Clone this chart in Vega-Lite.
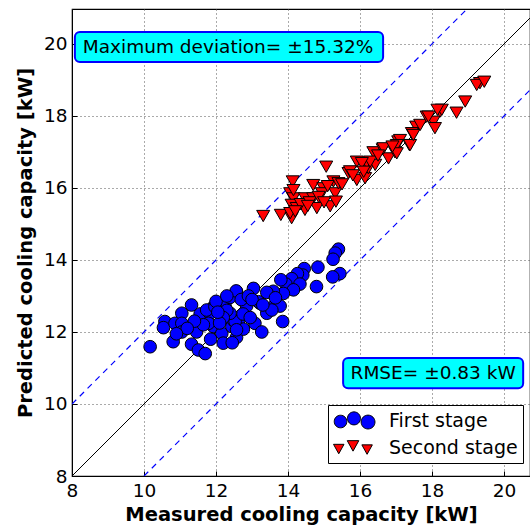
{
  "$schema": "https://vega.github.io/schema/vega-lite/v6.json",
  "width": 458,
  "height": 467,
  "autosize": "none",
  "padding": {"left": 72, "top": 9, "right": 0, "bottom": 53},
  "background": "white",
  "config": {
    "view": {"stroke": "black", "strokeWidth": 1.2},
    "font": "DejaVu Sans",
    "axis": {
      "labelFont": "DejaVu Sans",
      "labelFontSize": 18.5,
      "labelColor": "black",
      "labelFlush": false,
      "titleFont": "DejaVu Sans",
      "titleFontSize": 19.5,
      "titleFontWeight": "bold",
      "titleColor": "black",
      "domainColor": "black",
      "tickColor": "black",
      "tickSize": -5,
      "labelPadding": 10,
      "grid": true,
      "gridDash": [1, 3],
      "gridColor": "#555555",
      "gridWidth": 1
    }
  },
  "datasets": {
    "points": [
      {"stage": "First stage", "measured": 10.17, "predicted": 11.59},
      {"stage": "First stage", "measured": 10.58, "predicted": 12.29},
      {"stage": "First stage", "measured": 10.54, "predicted": 12.12},
      {"stage": "First stage", "measured": 10.81, "predicted": 11.73},
      {"stage": "First stage", "measured": 10.86, "predicted": 12.24},
      {"stage": "First stage", "measured": 11.05, "predicted": 12.52},
      {"stage": "First stage", "measured": 11.05, "predicted": 12.24},
      {"stage": "First stage", "measured": 11.05, "predicted": 12.0},
      {"stage": "First stage", "measured": 11.32, "predicted": 12.75},
      {"stage": "First stage", "measured": 11.32, "predicted": 11.66},
      {"stage": "First stage", "measured": 11.51, "predicted": 11.5},
      {"stage": "First stage", "measured": 11.7, "predicted": 11.4},
      {"stage": "First stage", "measured": 11.46, "predicted": 12.0},
      {"stage": "First stage", "measured": 11.56, "predicted": 12.5},
      {"stage": "First stage", "measured": 11.83, "predicted": 12.52},
      {"stage": "First stage", "measured": 11.93, "predicted": 12.15},
      {"stage": "First stage", "measured": 12.16, "predicted": 11.96},
      {"stage": "First stage", "measured": 12.2, "predicted": 11.69},
      {"stage": "First stage", "measured": 12.25, "predicted": 12.72},
      {"stage": "First stage", "measured": 12.44, "predicted": 12.15},
      {"stage": "First stage", "measured": 12.57, "predicted": 13.12},
      {"stage": "First stage", "measured": 12.39, "predicted": 12.96},
      {"stage": "First stage", "measured": 12.62, "predicted": 12.29},
      {"stage": "First stage", "measured": 12.57, "predicted": 11.85},
      {"stage": "First stage", "measured": 11.93, "predicted": 12.7},
      {"stage": "First stage", "measured": 11.79, "predicted": 12.24},
      {"stage": "First stage", "measured": 11.74, "predicted": 12.61},
      {"stage": "First stage", "measured": 11.97, "predicted": 12.7},
      {"stage": "First stage", "measured": 12.48, "predicted": 12.33},
      {"stage": "First stage", "measured": 12.76, "predicted": 12.08},
      {"stage": "First stage", "measured": 13.08, "predicted": 12.24},
      {"stage": "First stage", "measured": 13.27, "predicted": 12.0},
      {"stage": "First stage", "measured": 13.41, "predicted": 12.52},
      {"stage": "First stage", "measured": 13.85, "predicted": 12.29},
      {"stage": "First stage", "measured": 13.59, "predicted": 12.7},
      {"stage": "First stage", "measured": 13.78, "predicted": 12.72},
      {"stage": "First stage", "measured": 13.22, "predicted": 12.8},
      {"stage": "First stage", "measured": 12.85, "predicted": 12.72},
      {"stage": "First stage", "measured": 13.18, "predicted": 12.84},
      {"stage": "First stage", "measured": 13.55, "predicted": 12.61},
      {"stage": "First stage", "measured": 15.4, "predicted": 14.3},
      {"stage": "First stage", "measured": 15.31, "predicted": 14.19},
      {"stage": "First stage", "measured": 15.25, "predicted": 14.02},
      {"stage": "First stage", "measured": 15.44, "predicted": 13.62},
      {"stage": "First stage", "measured": 15.24, "predicted": 13.53},
      {"stage": "First stage", "measured": 14.83, "predicted": 13.8},
      {"stage": "First stage", "measured": 14.79, "predicted": 13.26},
      {"stage": "First stage", "measured": 14.45, "predicted": 13.76},
      {"stage": "First stage", "measured": 14.41, "predicted": 13.58},
      {"stage": "First stage", "measured": 14.26, "predicted": 13.62},
      {"stage": "First stage", "measured": 14.1, "predicted": 13.48},
      {"stage": "First stage", "measured": 13.94, "predicted": 13.33},
      {"stage": "First stage", "measured": 13.8, "predicted": 13.45},
      {"stage": "First stage", "measured": 14.33, "predicted": 13.33},
      {"stage": "First stage", "measured": 14.15, "predicted": 13.17},
      {"stage": "First stage", "measured": 13.87, "predicted": 13.07},
      {"stage": "First stage", "measured": 13.59, "predicted": 13.13},
      {"stage": "First stage", "measured": 13.41, "predicted": 13.1},
      {"stage": "First stage", "measured": 13.04, "predicted": 13.21},
      {"stage": "First stage", "measured": 12.56, "predicted": 13.14},
      {"stage": "First stage", "measured": 12.53, "predicted": 12.29},
      {"stage": "First stage", "measured": 12.39, "predicted": 12.52},
      {"stage": "First stage", "measured": 12.57, "predicted": 12.06},
      {"stage": "First stage", "measured": 12.0, "predicted": 12.85},
      {"stage": "First stage", "measured": 12.3, "predicted": 12.6},
      {"stage": "First stage", "measured": 12.7, "predicted": 12.9},
      {"stage": "First stage", "measured": 12.9, "predicted": 13.0},
      {"stage": "First stage", "measured": 12.2, "predicted": 12.4},
      {"stage": "First stage", "measured": 11.65, "predicted": 12.2},
      {"stage": "First stage", "measured": 12.75, "predicted": 12.5},
      {"stage": "First stage", "measured": 13.0, "predicted": 12.9},
      {"stage": "First stage", "measured": 12.95, "predicted": 12.4},
      {"stage": "First stage", "measured": 11.4, "predicted": 12.3},
      {"stage": "First stage", "measured": 12.1, "predicted": 12.25},
      {"stage": "First stage", "measured": 11.2, "predicted": 12.1},
      {"stage": "First stage", "measured": 10.9, "predicted": 11.95},
      {"stage": "First stage", "measured": 12.05, "predicted": 12.55},
      {"stage": "First stage", "measured": 13.3, "predicted": 12.75},
      {"stage": "First stage", "measured": 13.65, "predicted": 12.95},
      {"stage": "First stage", "measured": 12.3, "predicted": 13.0},
      {"stage": "First stage", "measured": 11.85, "predicted": 11.8},
      {"stage": "First stage", "measured": 12.45, "predicted": 11.7},
      {"stage": "Second stage", "measured": 13.31, "predicted": 15.22},
      {"stage": "Second stage", "measured": 13.8, "predicted": 15.25},
      {"stage": "Second stage", "measured": 14.1, "predicted": 15.16},
      {"stage": "Second stage", "measured": 14.06, "predicted": 15.3},
      {"stage": "Second stage", "measured": 14.13, "predicted": 16.18},
      {"stage": "Second stage", "measured": 14.06, "predicted": 15.85},
      {"stage": "Second stage", "measured": 14.15, "predicted": 15.71},
      {"stage": "Second stage", "measured": 14.1, "predicted": 15.53},
      {"stage": "Second stage", "measured": 14.24, "predicted": 15.44},
      {"stage": "Second stage", "measured": 14.47, "predicted": 15.39},
      {"stage": "Second stage", "measured": 14.47, "predicted": 15.71},
      {"stage": "Second stage", "measured": 14.7, "predicted": 16.08},
      {"stage": "Second stage", "measured": 14.7, "predicted": 15.71},
      {"stage": "Second stage", "measured": 14.8, "predicted": 15.44},
      {"stage": "Second stage", "measured": 14.98, "predicted": 15.99},
      {"stage": "Second stage", "measured": 14.94, "predicted": 15.85},
      {"stage": "Second stage", "measured": 15.06, "predicted": 16.59},
      {"stage": "Second stage", "measured": 15.17, "predicted": 15.49},
      {"stage": "Second stage", "measured": 15.26, "predicted": 16.18},
      {"stage": "Second stage", "measured": 15.31, "predicted": 15.85},
      {"stage": "Second stage", "measured": 15.33, "predicted": 15.62},
      {"stage": "Second stage", "measured": 15.4, "predicted": 16.13},
      {"stage": "Second stage", "measured": 15.68, "predicted": 16.41},
      {"stage": "Second stage", "measured": 15.91, "predicted": 16.73},
      {"stage": "Second stage", "measured": 15.91, "predicted": 16.22},
      {"stage": "Second stage", "measured": 16.14, "predicted": 16.27},
      {"stage": "Second stage", "measured": 16.23, "predicted": 16.55},
      {"stage": "Second stage", "measured": 16.42, "predicted": 16.64},
      {"stage": "Second stage", "measured": 15.72, "predicted": 16.46},
      {"stage": "Second stage", "measured": 14.15, "predicted": 15.94},
      {"stage": "Second stage", "measured": 16.37, "predicted": 16.99},
      {"stage": "Second stage", "measured": 16.63, "predicted": 17.07},
      {"stage": "Second stage", "measured": 17.06, "predicted": 17.29},
      {"stage": "Second stage", "measured": 17.37, "predicted": 17.19},
      {"stage": "Second stage", "measured": 17.46, "predicted": 17.52},
      {"stage": "Second stage", "measured": 17.56, "predicted": 17.7},
      {"stage": "Second stage", "measured": 17.67, "predicted": 17.75},
      {"stage": "Second stage", "measured": 17.85, "predicted": 17.98},
      {"stage": "Second stage", "measured": 18.04, "predicted": 17.84},
      {"stage": "Second stage", "measured": 18.08, "predicted": 17.66},
      {"stage": "Second stage", "measured": 18.22, "predicted": 18.12},
      {"stage": "Second stage", "measured": 18.68, "predicted": 18.09},
      {"stage": "Second stage", "measured": 18.92, "predicted": 18.4},
      {"stage": "Second stage", "measured": 16.79, "predicted": 16.82},
      {"stage": "Second stage", "measured": 16.97, "predicted": 16.99},
      {"stage": "Second stage", "measured": 16.19, "predicted": 16.69},
      {"stage": "Second stage", "measured": 19.33, "predicted": 18.91},
      {"stage": "Second stage", "measured": 19.24, "predicted": 18.86},
      {"stage": "Second stage", "measured": 18.27, "predicted": 18.17},
      {"stage": "Second stage", "measured": 18.15, "predicted": 18.17},
      {"stage": "Second stage", "measured": 17.9, "predicted": 17.98},
      {"stage": "Second stage", "measured": 17.44, "predicted": 17.52},
      {"stage": "Second stage", "measured": 17.39, "predicted": 17.19},
      {"stage": "Second stage", "measured": 17.11, "predicted": 17.33},
      {"stage": "Second stage", "measured": 17.02, "predicted": 17.19},
      {"stage": "Second stage", "measured": 17.02, "predicted": 16.96},
      {"stage": "Second stage", "measured": 16.65, "predicted": 17.1},
      {"stage": "Second stage", "measured": 16.28, "predicted": 16.73},
      {"stage": "Second stage", "measured": 16.05, "predicted": 16.69},
      {"stage": "Second stage", "measured": 17.48, "predicted": 17.47},
      {"stage": "Second stage", "measured": 19.45, "predicted": 18.95},
      {"stage": "Second stage", "measured": 14.35, "predicted": 15.55},
      {"stage": "Second stage", "measured": 14.6, "predicted": 15.6},
      {"stage": "Second stage", "measured": 14.85, "predicted": 15.75},
      {"stage": "Second stage", "measured": 15.0, "predicted": 15.6},
      {"stage": "Second stage", "measured": 14.2, "predicted": 15.35},
      {"stage": "Second stage", "measured": 15.5, "predicted": 16.1},
      {"stage": "Second stage", "measured": 15.1, "predicted": 16.05},
      {"stage": "Second stage", "measured": 14.55, "predicted": 15.5},
      {"stage": "Second stage", "measured": 15.8, "predicted": 16.35},
      {"stage": "Second stage", "measured": 16.1, "predicted": 16.45},
      {"stage": "Second stage", "measured": 16.5, "predicted": 16.9},
      {"stage": "Second stage", "measured": 16.9, "predicted": 17.15}
    ],
    "lines": [
      {"kind": "ref", "measured": 8, "predicted": 8},
      {"kind": "ref", "measured": 21, "predicted": 21},
      {"kind": "upper", "measured": 8, "predicted": 10},
      {"kind": "upper", "measured": 19, "predicted": 21},
      {"kind": "lower", "measured": 10, "predicted": 8},
      {"kind": "lower", "measured": 21, "predicted": 19}
    ],
    "boxes": [
      {"label": "Maximum deviation= ±15.32%", "x1": 8.08, "x2": 16.64, "y1": 19.5, "y2": 20.33, "tx": 8.3, "ty": 19.915, "align": "left"},
      {"label": "RMSE= ±0.83 kW", "x1": 15.53, "x2": 20.53, "y1": 10.44, "y2": 11.28, "tx": 18.03, "ty": 10.86, "align": "center"}
    ]
  },
  "layer": [
    {
      "data": {"name": "lines"},
      "transform": [{"filter": "datum.kind === 'ref'"}],
      "mark": {"type": "line", "color": "black", "strokeWidth": 1, "clip": true},
      "encoding": {
        "x": {"field": "measured", "type": "quantitative", "scale": {"domain": [8, 20.72], "nice": false, "zero": false},
          "axis": {"values": [8, 10, 12, 14, 16, 18, 20], "title": "Measured cooling capacity [kW]", "titlePadding": 6}},
        "y": {"field": "predicted", "type": "quantitative", "scale": {"domain": [8, 20.97], "nice": false, "zero": false},
          "axis": {"values": [8, 10, 12, 14, 16, 18, 20], "title": "Predicted cooling capacity [kW]", "titlePadding": 8}},
        "detail": {"field": "kind"}
      }
    },
    {
      "data": {"name": "lines"},
      "transform": [{"filter": "datum.kind !== 'ref'"}],
      "mark": {"type": "line", "color": "#0000ff", "strokeWidth": 1.2, "strokeDash": [6, 5], "clip": true},
      "encoding": {
        "x": {"field": "measured", "type": "quantitative"},
        "y": {"field": "predicted", "type": "quantitative"},
        "detail": {"field": "kind"}
      }
    },
    {
      "data": {"name": "points"},
      "transform": [{"filter": "datum.stage === 'First stage'"}],
      "mark": {"type": "point", "shape": "circle", "filled": true, "opacity": 1, "stroke": "black", "strokeWidth": 1, "size": 160},
      "encoding": {
        "x": {"field": "measured", "type": "quantitative"},
        "y": {"field": "predicted", "type": "quantitative"},
        "color": {"field": "stage", "type": "nominal",
          "scale": {"domain": ["First stage", "Second stage"], "range": ["#0000ff", "#ff0000"]},
          "legend": {
            "title": null, "orient": "none", "legendX": 256, "legendY": 396,
            "labelFont": "DejaVu Sans", "labelFontSize": 19, "labelColor": "black",
            "padding": 5, "strokeColor": "black", "fillColor": "white",
            "symbolSize": 441, "labelOffset": 34, "rowPadding": 6, "labelLimit": 300,
            "symbolType": {"expr": "datum.value === 'First stage' ? 'M-0.93,0.05A0.6,0.6 0 1 0 0.27,0.05A0.6,0.6 0 1 0 -0.93,0.05ZM0.33,-0.25A0.62,0.62 0 1 0 1.57,-0.25A0.62,0.62 0 1 0 0.33,-0.25ZM1.63,0.1A0.66,0.66 0 1 0 2.95,0.1A0.66,0.66 0 1 0 1.63,0.1Z' : 'M-1,-0.35L0,-0.35L-0.5,0.55ZM0.31,-0.7L1.41,-0.7L0.86,0.3ZM1.7,-0.3L2.7,-0.3L2.2,0.6Z'"},
            "symbolStrokeColor": "black",
            "symbolStrokeWidth": 1,
            "symbolOpacity": 1
          }
        }
      }
    },
    {
      "data": {"name": "points"},
      "transform": [{"filter": "datum.stage === 'Second stage'"}],
      "mark": {"type": "point", "shape": "triangle-down", "filled": true, "opacity": 1, "stroke": "black", "strokeWidth": 1, "size": 170},
      "encoding": {
        "x": {"field": "measured", "type": "quantitative"},
        "y": {"field": "predicted", "type": "quantitative"},
        "color": {"field": "stage", "type": "nominal"}
      }
    },
    {
      "data": {"name": "boxes"},
      "mark": {"type": "rect", "fill": "#00ffff", "stroke": "#0000ff", "strokeWidth": 2, "cornerRadius": 5},
      "encoding": {
        "x": {"field": "x1", "type": "quantitative"},
        "x2": {"field": "x2"},
        "y": {"field": "y1", "type": "quantitative"},
        "y2": {"field": "y2"}
      }
    },
    {
      "data": {"name": "boxes"},
      "transform": [{"filter": "datum.align === 'left'"}],
      "mark": {"type": "text", "align": "left", "baseline": "middle", "font": "DejaVu Sans", "fontSize": 18.5, "color": "black"},
      "encoding": {
        "x": {"field": "tx", "type": "quantitative"},
        "y": {"field": "ty", "type": "quantitative"},
        "text": {"field": "label"}
      }
    },
    {
      "data": {"name": "boxes"},
      "transform": [{"filter": "datum.align === 'center'"}],
      "mark": {"type": "text", "align": "center", "baseline": "middle", "font": "DejaVu Sans", "fontSize": 18.5, "color": "black"},
      "encoding": {
        "x": {"field": "tx", "type": "quantitative"},
        "y": {"field": "ty", "type": "quantitative"},
        "text": {"field": "label"}
      }
    }
  ]
}
